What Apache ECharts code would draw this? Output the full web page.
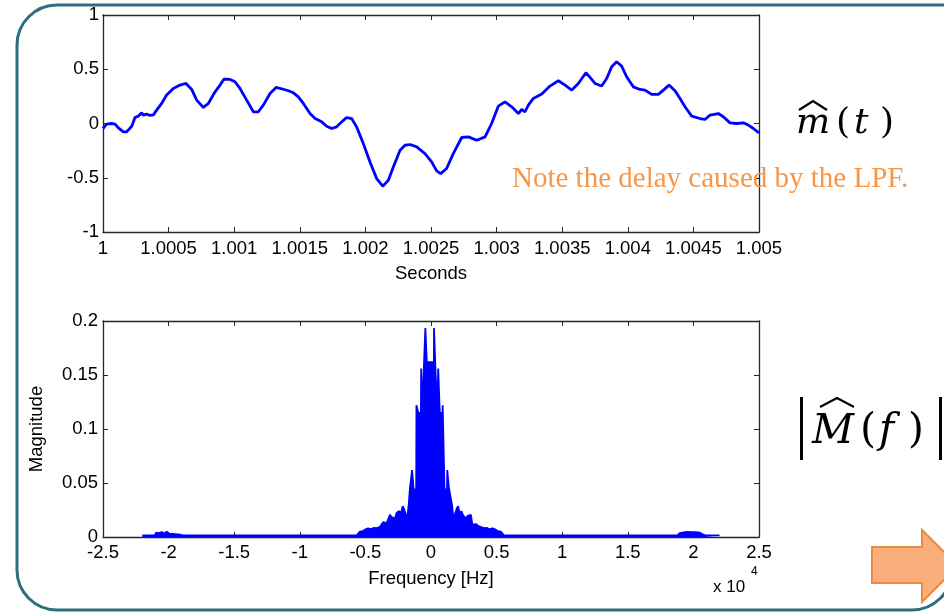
<!DOCTYPE html>
<html>
<head>
<meta charset="utf-8">
<script src="https://cdn.jsdelivr.net/npm/echarts@6/dist/echarts.min.js"></script>
<style>
html,body{margin:0;padding:0;background:#fff;}
#chart{width:944px;height:613px;}
</style>
</head>
<body>
<div id="chart"></div>
<script>
// ---- Top plot: recovered message m^(t) ----
const timeS = [
  1.000000,1.000028,1.000066,1.000092,1.000117,1.000155,1.000180,1.000219,1.000244,1.000269,
  1.000295,1.000307,1.000333,1.000358,1.000384,1.000409,1.000447,1.000485,1.000536,1.000587,
  1.000633,1.000676,1.000714,1.000765,1.000803,1.000854,1.000892,1.000922,1.000968,1.001006,
  1.001044,1.001095,1.001146,1.001184,1.001222,1.001273,1.001319,1.001362,1.001413,1.001451,
  1.001489,1.001527,1.001578,1.001616,1.001667,1.001705,1.001743,1.001781,1.001819,1.001857,
  1.001895,1.001933,1.001984,1.002035,1.002086,1.002132,1.002175,1.002213,1.002264,1.002302,
  1.002340,1.002391,1.002454,1.002505,1.002543,1.002574,1.002619,1.002670,1.002734,1.002785,
  1.002848,1.002912,1.002962,1.003013,1.003064,1.003115,1.003166,1.003191,1.003216,1.003242,
  1.003280,1.003344,1.003407,1.003471,1.003522,1.003573,1.003623,1.003681,1.003712,1.003750,
  1.003801,1.003839,1.003877,1.003915,1.003953,1.003991,1.004042,1.004093,1.004131,1.004182,
  1.004233,1.004271,1.004314,1.004360,1.004398,1.004436,1.004487,1.004550,1.004588,1.004627,
  1.004690,1.004728,1.004779,1.004830,1.004881,1.004919,1.004957,1.005000
];
const mHat = [
  -0.046,-0.006,0.000,-0.006,-0.040,-0.077,-0.077,-0.025,0.055,0.068,
  0.098,0.077,0.086,0.074,0.080,0.123,0.185,0.262,0.323,0.354,
  0.369,0.314,0.215,0.148,0.185,0.292,0.354,0.409,0.406,0.385,
  0.323,0.215,0.108,0.108,0.169,0.277,0.332,0.320,0.302,0.283,
  0.246,0.185,0.092,0.046,0.015,-0.025,-0.046,-0.031,0.015,0.055,
  0.046,-0.031,-0.185,-0.354,-0.508,-0.578,-0.523,-0.400,-0.246,-0.200,
  -0.194,-0.215,-0.277,-0.354,-0.437,-0.462,-0.415,-0.277,-0.129,-0.123,
  -0.154,-0.123,0.000,0.160,0.200,0.154,0.092,0.129,0.108,0.169,
  0.231,0.271,0.345,0.394,0.354,0.308,0.369,0.468,0.425,0.369,
  0.345,0.415,0.523,0.569,0.529,0.431,0.338,0.314,0.308,0.268,
  0.268,0.308,0.354,0.302,0.231,0.154,0.068,0.046,0.037,0.077,
  0.092,0.062,0.006,0.000,0.006,-0.015,-0.046,-0.086
];

// ---- Bottom plot: magnitude spectrum |M^(f)| ----
const specFreq = [
  -22000,-21050,-20950,-20750,-20650,-20500,-20300,-20150,-19950,-19800,-19600,-19450,-19250,-19100,-18900,
  -5660,-5420,-5200,-5030,-4800,-4600,-4350,-4150,-3900,-3750,-3640,-3500,-3380,-3250,-3130,-3000,-2870,-2750,
  -2620,-2500,-2420,-2300,-2160,-2050,-1980,-1810,-1700,-1600,-1460,-1440,-1340,-1320,-1130,-1110,-990,-970,
  -770,-750,-650,-630,-570,-550,-440,-430,-330,-320,
  220,230,330,340,450,470,530,550,650,670,870,890,1010,1030,1220,1240,1340,1360,1500,1600,1710,
  1880,1950,2060,2200,2320,2400,2530,2650,2780,2900,3040,3150,3280,3420,3550,3650,3800,4050,4250,4460,4700,4930,5100,5320,5560,
  18800,18950,19100,19250,19400,19550,19700,19850,20000,20150,20300,20500,20700,20900,22000
];
const specMag = [
  0.0015,0.0015,0.004,0.0035,0.0025,0.0045,0.003,0.005,0.0032,0.0048,0.0028,0.0042,0.0025,0.0038,0.0015,
  0.0015,0.005,0.0055,0.0068,0.008,0.0072,0.0085,0.0082,0.0092,0.0098,0.0138,0.012,0.0128,0.0115,0.0205,0.0185,0.0195,0.017,
  0.0225,0.021,0.024,0.0215,0.0285,0.026,0.023,0.017,0.030,0.046,0.046,0.062,0.062,0.044,0.044,0.122,0.122,0.115,
  0.115,0.156,0.156,0.117,0.117,0.155,0.155,0.1935,0.1935,0.162,
  0.162,0.1935,0.1935,0.155,0.155,0.117,0.117,0.156,0.156,0.115,0.115,0.122,0.122,0.044,0.044,0.062,0.062,0.046,0.046,0.030,0.017,
  0.023,0.026,0.0285,0.0215,0.024,0.021,0.0225,0.017,0.0195,0.0185,0.0205,0.0115,0.0128,0.012,0.0138,0.0098,0.0092,0.0082,0.0085,0.0072,0.008,0.0068,0.0055,0.005,0.0015,
  0.0015,0.0035,0.003,0.0042,0.0028,0.0048,0.003,0.0045,0.0032,0.0044,0.0028,0.004,0.0025,0.0015,0.0015
];

// ---- Text ----
const topXLabel = 'Seconds';
const botXLabel = 'Frequency [Hz]';
const botYLabel = 'Magnitude';
const noteText = 'Note the delay caused by the LPF.';

const chart = echarts.init(document.getElementById('chart'), null, {renderer: 'canvas'});
const AX = '#262626';
const FONT = 'Liberation Sans';
const FS = 18.5;
const lbl = {color: '#000', fontFamily: FONT, fontSize: FS};
function axisBase(extra) {
  return Object.assign({
    type: 'value',
    splitLine: {show: false},
    axisLine: {show: true, onZero: false, lineStyle: {color: AX, width: 1.3}},
    axisTick: {show: true, inside: true, length: 5, lineStyle: {color: AX, width: 1}},
  }, extra);
}
const topLinePts = timeS.map((t, i) => [t, mHat[i]]);
const specPts = specFreq.map((f, i) => [f, specMag[i]]);

const fmtT = v => String(+(+v).toFixed(4));
const fmtF = v => String(+(v / 10000).toFixed(2));
const fmtY = v => String(+(+v).toFixed(3));

function glyph(x, y, t, font) {
  return {type: 'text', x: x, y: y, z: 10, style: {text: t, fill: '#000', font: font}};
}

const option = {
  animation: false,
  backgroundColor: '#fff',
  grid: [
    {left: 103, top: 15, width: 656, height: 217},
    {left: 103, top: 321, width: 656, height: 216}
  ],
  xAxis: [
    axisBase({gridIndex: 0, position: 'bottom', min: 1, max: 1.005, interval: 0.0005,
      axisLabel: Object.assign({margin: 7, formatter: fmtT}, lbl),
      name: topXLabel, nameLocation: 'middle', nameGap: 32,
      nameTextStyle: {color: '#000', fontFamily: FONT, fontSize: FS}}),
    axisBase({gridIndex: 0, position: 'top', min: 1, max: 1.005, interval: 0.0005, axisLabel: {show: false}}),
    axisBase({gridIndex: 1, position: 'bottom', min: -25000, max: 25000, interval: 5000,
      axisLabel: Object.assign({margin: 6, formatter: fmtF}, lbl),
      name: botXLabel, nameLocation: 'middle', nameGap: 32,
      nameTextStyle: {color: '#000', fontFamily: FONT, fontSize: FS}}),
    axisBase({gridIndex: 1, position: 'top', min: -25000, max: 25000, interval: 5000, axisLabel: {show: false}})
  ],
  yAxis: [
    axisBase({gridIndex: 0, position: 'left', min: -1, max: 1, interval: 0.5,
      axisLabel: Object.assign({margin: 4, formatter: fmtY}, lbl)}),
    axisBase({gridIndex: 0, position: 'right', min: -1, max: 1, interval: 0.5, axisLabel: {show: false}}),
    axisBase({gridIndex: 1, position: 'left', min: 0, max: 0.2, interval: 0.05,
      axisLabel: Object.assign({margin: 5, formatter: fmtY}, lbl),
      name: botYLabel, nameLocation: 'middle', nameGap: 57,
      nameTextStyle: {color: '#000', fontFamily: FONT, fontSize: FS}}),
    axisBase({gridIndex: 1, position: 'right', min: 0, max: 0.2, interval: 0.05, axisLabel: {show: false}})
  ],
  series: [
    {type: 'line', xAxisIndex: 0, yAxisIndex: 0, data: topLinePts, showSymbol: false,
      lineStyle: {color: '#0000FF', width: 2.8}, z: 3},
    {type: 'line', xAxisIndex: 2, yAxisIndex: 2, data: specPts, showSymbol: false,
      lineStyle: {color: '#0000FF', width: 1.8}, areaStyle: {color: '#0000FF', opacity: 1}, z: 3}
  ],
  graphic: [
    // slide frame
    {type: 'rect', shape: {x: 17, y: 5, width: 935, height: 605, r: [40, 0, 40, 40]},
      style: {fill: 'none', stroke: '#2F6E7D', lineWidth: 3}, z: 1},
    // orange arrow
    {type: 'polygon', shape: {points: [[872, 547], [922, 547], [922, 530], [958, 566], [922, 602], [922, 583], [872, 583]]},
      style: {fill: '#F9AF7C', stroke: '#EE8A3C', lineWidth: 2}, z: 5},
    // note
    {type: 'text', x: 512, y: 165, z: 10,
      style: {text: noteText, fill: '#F79646', font: '29px "Liberation Serif"'}},
    // m^(t)
    glyph(796, 106, 'm', 'italic 36px "DejaVu Serif"'),
    glyph(836, 106, '(', '36px "DejaVu Serif"'),
    glyph(854, 106, 't', 'italic 36px "DejaVu Serif"'),
    glyph(880, 106, ')', '36px "DejaVu Serif"'),
    {type: 'polyline', shape: {points: [[799, 110], [813, 101], [827, 110]]}, style: {stroke: '#000', lineWidth: 2.2, fill: 'none'}, z: 10},
    // |M^(f)|
    {type: 'line', shape: {x1: 801.5, y1: 397, x2: 801.5, y2: 460}, style: {stroke: '#000', lineWidth: 3}, z: 10},
    glyph(812, 412, 'M', 'italic 41px "DejaVu Serif"'),
    glyph(860, 411, '(', '41px "DejaVu Serif"'),
    glyph(879, 411, 'f', 'italic 41px "DejaVu Serif"'),
    glyph(908, 411, ')', '41px "DejaVu Serif"'),
    {type: 'line', shape: {x1: 940.5, y1: 397, x2: 940.5, y2: 460}, style: {stroke: '#000', lineWidth: 3}, z: 10},
    {type: 'polyline', shape: {points: [[820, 407], [837, 398], [854, 407]]}, style: {stroke: '#000', lineWidth: 2.2, fill: 'none'}, z: 10},
    // x 10^4
    glyph(713, 579, 'x 10', '17px "Liberation Sans"'),
    glyph(751, 566, '4', '12px "Liberation Sans"')
  ]
};
chart.setOption(option);
</script>
</body>
</html>
